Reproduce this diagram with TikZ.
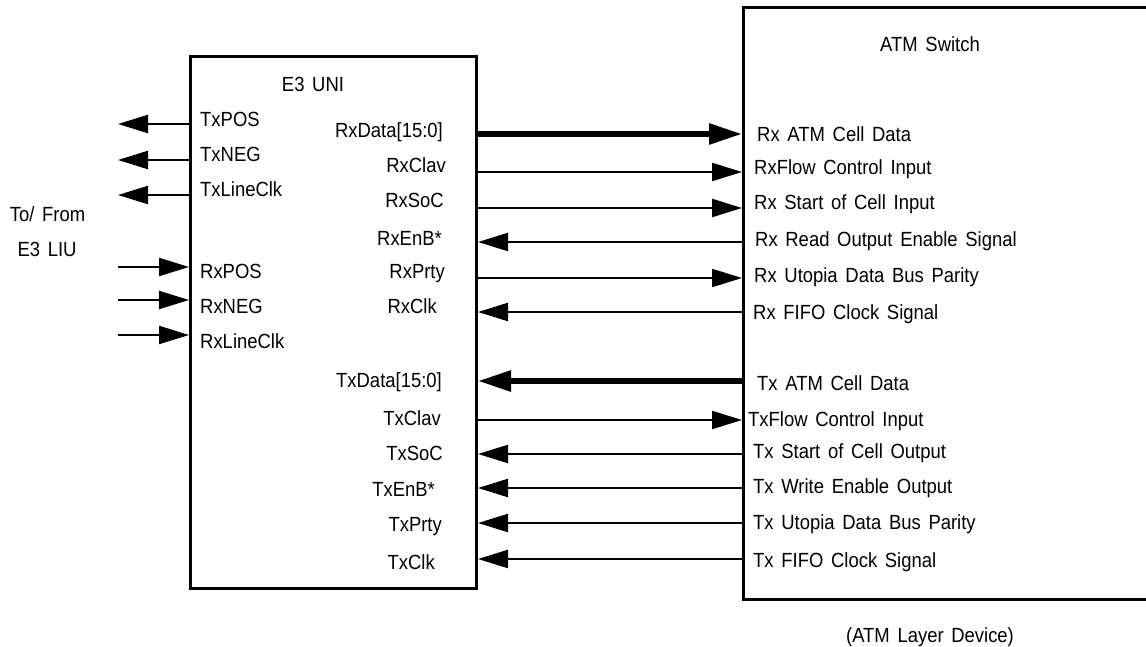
\documentclass[tikz,border=0pt]{standalone}
\usepackage{fontspec}
\setmainfont{Liberation Sans}[FakeStretch=0.9, WordSpace={1.5}]
\usetikzlibrary{arrows.meta}
\begin{document}
\begin{tikzpicture}[x=1pt,y=-1pt,
  box/.style={draw, line width=3pt, inner sep=0pt, anchor=north west},
  lbl/.style={inner sep=0pt, font=\fontsize{20.5}{23}\selectfont},
  lw/.style={lbl, anchor=base west},
  le/.style={lbl, anchor=base east},
  lc/.style={lbl, anchor=base},
  sig/.style={line width=2.3pt, -{Triangle[length=30pt,width=18pt]}},
  bus/.style={line width=5.7pt, -{Triangle[length=33pt,width=20pt]}}
]
\useasboundingbox (0,0) rectangle (1146,647);

% boxes
\node[box, minimum width=286pt, minimum height=532pt] (uni) at (189,55) {};
\begin{scope}
\clip (0,0) rectangle (1146,647);
\node[box, minimum width=450pt, minimum height=592pt] (atm) at (742,6) {};
\end{scope}

% titles
\node[lc] (tuni) at (313,91.5) {E3 UNI};
\node[lc] (tatm) at (930,52) {ATM Switch};
\node[lc] (tdev) at (930,642) {(ATM Layer Device)};
\node[lc] (tlo1) at (47.5,222) {To/ From};
\node[lc] (tlo2) at (47,257) {E3 LIU};

% left pins of E3 UNI
\node[lw] (nTxPOS) at (200,127) {TxPOS};
\node[lw] (nTxNEG) at (200,162) {TxNEG};
\node[lw] (nTxLineClk) at (200,197) {TxLineClk};
\node[lw] (nRxPOS) at (200,278) {RxPOS};
\node[lw] (nRxNEG) at (200,313) {RxNEG};
\node[lw] (nRxLineClk) at (200,348) {RxLineClk};

% right pins of E3 UNI
\node[le] (nRxData) at (443,138) {RxData[15:0]};
\node[le] (nRxClav) at (446,173) {RxClav};
\node[le] (nRxSoC) at (444,208) {RxSoC};
\node[le] (nRxEnB) at (442,245) {RxEnB*};
\node[le] (nRxPrty) at (445,278) {RxPrty};
\node[le] (nRxClk) at (437,313) {RxClk};
\node[le] (nTxData) at (442,387) {TxData[15:0]};
\node[le] (nTxClav) at (441,425) {TxClav};
\node[le] (nTxSoC) at (443,460) {TxSoC};
\node[le] (nTxEnB) at (435,496) {TxEnB*};
\node[le] (nTxPrty) at (442,531) {TxPrty};
\node[le] (nTxClk) at (435,569) {TxClk};

% ATM switch pins
\node[lw] (aRxData) at (757,141.5) {Rx ATM Cell Data};
\node[lw] (aRxFlow) at (754,175) {RxFlow Control Input};
\node[lw] (aRxSoC) at (754,210) {Rx Start of Cell Input};
\node[lw] (aRxEnB) at (755,247) {Rx Read Output Enable Signal};
\node[lw] (aRxPrty) at (754,282) {Rx Utopia Data Bus Parity};
\node[lw] (aRxClk) at (753,319) {Rx FIFO Clock Signal};
\node[lw] (aTxData) at (757,390.5) {Tx ATM Cell Data};
\node[lw] (aTxFlow) at (748,426) {TxFlow Control Input};
\node[lw] (aTxSoC) at (753,458) {Tx Start of Cell Output};
\node[lw] (aTxEnB) at (753,493) {Tx Write Enable Output};
\node[lw] (aTxPrty) at (753,529) {Tx Utopia Data Bus Parity};
\node[lw] (aTxClk) at (753,567) {Tx FIFO Clock Signal};

% free ends on the LIU side
\coordinate (fTxPOS) at (118,124);
\coordinate (fTxNEG) at (118,160);
\coordinate (fTxLineClk) at (118,195);
\coordinate (fRxPOS) at (118,267);
\coordinate (fRxNEG) at (118,300);
\coordinate (fRxLineClk) at (118,335);

\draw[sig] (uni.west |- fTxPOS) -- (fTxPOS);
\draw[sig] (uni.west |- fTxNEG) -- (fTxNEG);
\draw[sig] (uni.west |- fTxLineClk) -- (fTxLineClk);
\draw[sig] (fRxPOS) -- (uni.west |- fRxPOS);
\draw[sig] (fRxNEG) -- (uni.west |- fRxNEG);
\draw[sig] (fRxLineClk) -- (uni.west |- fRxLineClk);

% UNI <-> ATM switch
\draw[bus] (uni.east |- 0,134) -- (atm.west |- 0,134);
\draw[sig] (uni.east |- 0,172) -- (atm.west |- 0,172);
\draw[sig] (uni.east |- 0,208) -- (atm.west |- 0,208);
\draw[sig] (atm.west |- 0,242) -- (uni.east |- 0,242);
\draw[sig] (uni.east |- 0,278) -- (atm.west |- 0,278);
\draw[sig] (atm.west |- 0,312) -- (uni.east |- 0,312);
\draw[bus] (atm.west |- 0,381) -- (uni.east |- 0,381);
\draw[sig] (uni.east |- 0,420) -- (atm.west |- 0,420);
\draw[sig] (atm.west |- 0,454) -- (uni.east |- 0,454);
\draw[sig] (atm.west |- 0,488) -- (uni.east |- 0,488);
\draw[sig] (atm.west |- 0,523) -- (uni.east |- 0,523);
\draw[sig] (atm.west |- 0,559) -- (uni.east |- 0,559);
\end{tikzpicture}
\end{document}
